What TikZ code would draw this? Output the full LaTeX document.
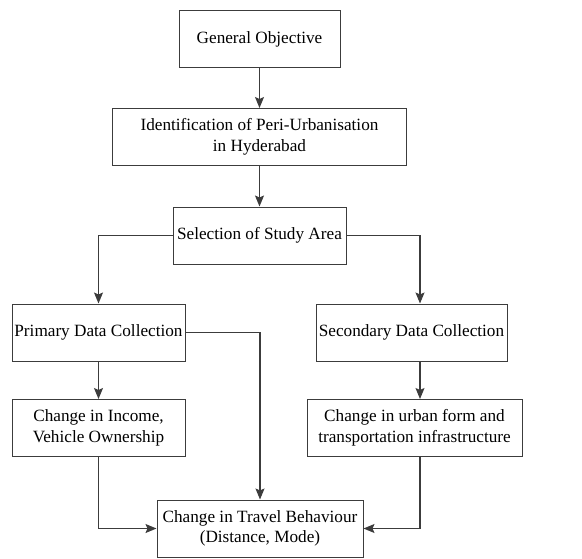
\documentclass[tikz,border=0pt]{standalone}
\usepackage{fontspec}
\setmainfont{Liberation Serif}
\usetikzlibrary{%
        arrows.meta,
        positioning
    }
\definecolor{edge}{RGB}{60, 60, 60}
\tikzset{%
    stage/.style={%
        draw=edge, line width=1pt, inner sep=0pt, align=center,
        minimum height=57pt, font=\fontsize{17.2}{20.7}\selectfont
    },
    flow/.style={%
        draw=edge, line width=1.2pt, -{Stealth[length=11pt, width=9pt, inset=2pt]}
    }
}
\begin{document}
\begin{tikzpicture}[x=1pt, y=-1pt]

    \useasboundingbox (0, 0) rectangle (582, 558);

    % Top chain
    \node[stage, minimum width=161pt] (goal) at (259.5, 39)
        {General Objective};
    \node[stage, minimum width=294pt] (ident) at (259.5, 137)
        {Identification of Peri-Urbanisation\\in Hyderabad};
    \node[stage, minimum width=173pt] (area) at (259.5, 235.5)
        {Selection of Study Area};

    % Data collection
    \node[stage, minimum width=173pt] (primary) at (98.5, 332.5)
        {Primary Data Collection};
    \node[stage, minimum width=191pt] (secondary) at (411.5, 332.5)
        {Secondary Data Collection};

    % Changes
    \node[stage, minimum width=173pt] (income) at (98.5, 428)
        {Change in Income,\\Vehicle Ownership};
    \node[stage, minimum width=215pt] (urban) at (414.5, 428)
        {Change in urban form and\\transportation infrastructure};
    \node[stage, minimum width=206pt] (travel) at (260, 528.5)
        {Change in Travel Behaviour\\(Distance, Mode)};

    % Connecting the chain
    \draw[flow] (goal) -- (ident);
    \draw[flow] (ident) -- (area);
    \draw[flow] (area.west) -| (primary.north);
    \draw[flow] (area.east) -| ([xshift=8.5pt] secondary.north);
    \draw[flow] (primary) -- (income);
    \draw[flow] ([xshift=8.5pt] secondary.south) -- ([xshift=5.5pt] urban.north);

    % Connecting to travel behaviour
    \draw[flow] (primary.east) -| (travel.north);
    \draw[flow] (income.south) |- (travel.west);
    \draw[flow] ([xshift=5.5pt] urban.south) |- (travel.east);

\end{tikzpicture}
\end{document}
